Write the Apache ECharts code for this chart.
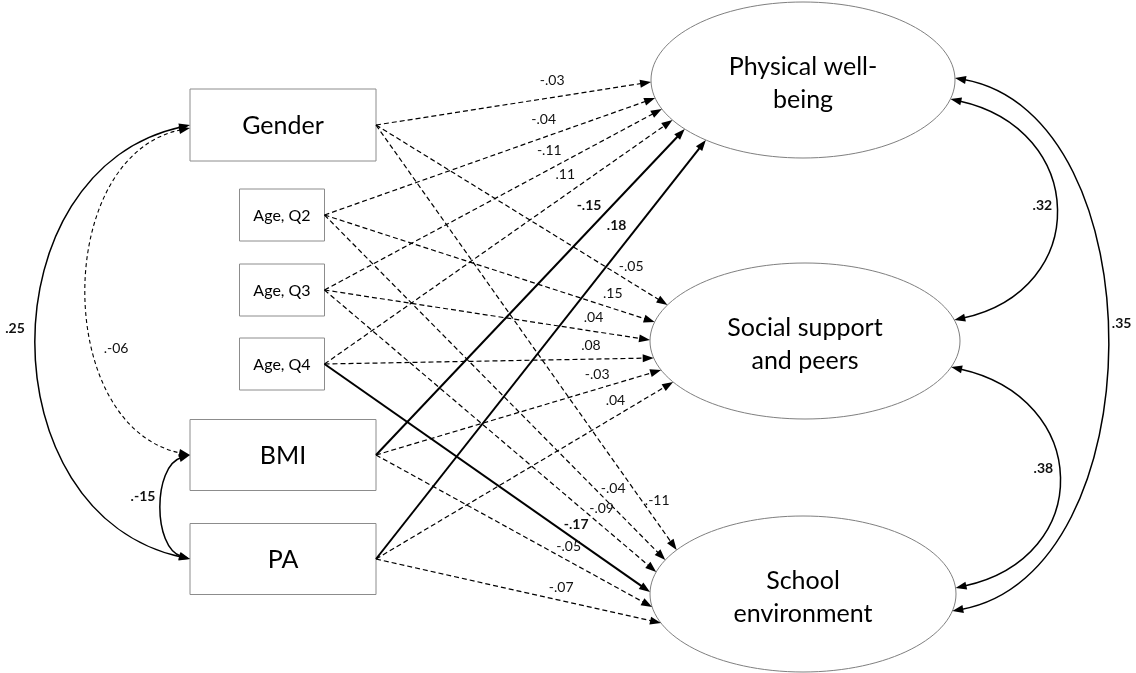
<!DOCTYPE html>
<html lang="en" style="height: 100%">
<head>
  <meta charset="utf-8">
</head>
<body style="height: 100%; margin: 0; background: #fff">
  <div id="container" style="width: 1136px; height: 673px"></div>

  <script type="text/javascript" src="https://cdn.jsdelivr.net/npm/echarts@6.0.0/dist/echarts.min.js"></script>
  <script type="text/javascript">
    // observed predictors (boxes) and outcomes (ellipses)
    var predictors = ['Gender', 'Age, Q2', 'Age, Q3', 'Age, Q4', 'BMI', 'PA'];
    var outcomes = ['Physical well-\nbeing', 'Social support\nand peers', 'School\nenvironment'];

    // path coefficients, one array per outcome, in predictor order
    var physicalPaths = ['-.03', '-.04', '-.11', '.11', '-.15', '.18'];
    var socialPaths = ['-.05', '.15', '.04', '.08', '-.03', '.04'];
    var schoolPaths = ['.-11', '-.04', '-.09', '-.17', '-.05', '-.07'];
    // 1 = significant path (solid line, bold label)
    var physicalSig = [0, 0, 0, 0, 1, 1];
    var socialSig = [0, 0, 0, 0, 0, 0];
    var schoolSig = [0, 0, 0, 1, 0, 0];

    // covariances (double headed arrows)
    var covFrom = ['Gender', 'Gender', 'BMI', outcomes[0], outcomes[1], outcomes[0]];
    var covTo = ['PA', 'BMI', 'PA', outcomes[1], outcomes[2], outcomes[2]];
    var covValues = ['.25', '.-06', '.-15', '.32', '.38', '.35'];
    var covSig = [1, 0, 1, 1, 1, 1];

    // ---- layout, in axis units (1 unit = 1 px) ----
    var boxes = [[283, 125, 186, 72], [282, 215, 85, 52], [282, 290, 85, 52],
                 [282, 364, 85, 52], [283, 455, 186, 71], [283, 559, 186, 71]];
    var ellipses = [[803, 80, 152, 78], [805, 341, 155, 78], [803, 594, 153, 78]];
    // vertical offset of every incoming arrow tip on the ellipse (predictor order)
    var inPorts = [[2, 18, 29, 40, 49, 60], [-36, -19, -1, 17, 29, 41], [-44, -34, -22, -2, 13, 29]];
    // position of the coefficient along its path (0 = box, 1 = ellipse)
    var labelAt = [[0.65, 0.68, 0.69, 0.72, 0.73, 0.77],
                   [0.85, 0.86, 0.82, 0.81, 0.79, 0.83],
                   [0.90, 0.82, 0.81, 0.75, 0.675, 0.64]];
    var labelGap = [17, 14, 13];
    var covPorts = [[0, 0], [3, 0], [0, 0], [19, -21], [26, -6], [-2, 17]];
    var covBulge = [153, 103, 28, 103, 105, 153];
    var covTilt = [0.22, 0.2, 0.3, 0.22, 0.22, 0.18];
    var covLabelOff = [[-22, -14], [29, 57], [-19, -11], [-13, -4], [-15, -9], [15, -21]];

    var FONT = 'Lato, "Open Sans", sans-serif';
    var ARROW = 11;

    var pathValues = [physicalPaths, socialPaths, schoolPaths];
    var pathSig = [physicalSig, socialSig, schoolSig];

    function ellipseX(e, dy, side) {
      var k = dy / e[3];
      return e[0] + side * e[2] * Math.sqrt(Math.max(0, 1 - k * k));
    }
    function toward(p, q, d) {
      var dx = q[0] - p[0], dy = q[1] - p[1], l = Math.sqrt(dx * dx + dy * dy);
      return [p[0] + dx / l * d, p[1] + dy / l * d];
    }
    function port(name, dy) {
      var i = predictors.indexOf(name);
      if (i >= 0) return [boxes[i][0] - boxes[i][2] / 2, boxes[i][1] + dy];
      var e = ellipses[outcomes.indexOf(name)];
      return [ellipseX(e, dy, 1), e[1] + dy];
    }

    var pathLines = [], labels = [], covGeom = [];
    outcomes.forEach(function (o, j) {
      var e = ellipses[j];
      predictors.forEach(function (p, i) {
        var b = boxes[i];
        var src = [b[0] + b[2] / 2, b[1]];
        var dy = inPorts[j][i];
        var tip = [ellipseX(e, dy, -1), e[1] + dy];
        var sig = pathSig[j][i];
        pathLines.push({
          coords: [src, toward(tip, src, ARROW / 2)],
          lineStyle: { type: sig ? 'solid' : [5, 3], width: sig ? 2 : 1.2 }
        });
        var t = labelAt[j][i];
        var len = Math.sqrt(Math.pow(tip[0] - src[0], 2) + Math.pow(tip[1] - src[1], 2));
        var nx = (tip[1] - src[1]) / len, ny = -(tip[0] - src[0]) / len;
        labels.push({
          pos: [src[0] + (tip[0] - src[0]) * t + nx * labelGap[j],
                src[1] + (tip[1] - src[1]) * t + ny * labelGap[j]],
          text: pathValues[j][i], bold: sig
        });
      });
    });

    // covariance arcs as cubic curves leaving the node sideways
    covValues.forEach(function (v, k) {
      var a = port(covFrom[k], covPorts[k][0]);
      var b = port(covTo[k], covPorts[k][1]);
      var side = predictors.indexOf(covFrom[k]) >= 0 ? -1 : 1;
      var h = covBulge[k] / 0.75;
      var tilt = h * covTilt[k];
      var c1 = [a[0] + side * h, a[1] + tilt];
      var c2 = [b[0] + side * h, b[1] - tilt];
      var apex = [0.125 * a[0] + 0.375 * c1[0] + 0.375 * c2[0] + 0.125 * b[0],
                  0.125 * a[1] + 0.375 * c1[1] + 0.375 * c2[1] + 0.125 * b[1]];
      covGeom.push({ a: a, b: b, c1: c1, c2: c2, sig: covSig[k] });
      labels.push({ pos: [apex[0] + covLabelOff[k][0], apex[1] + covLabelOff[k][1]], text: v, bold: covSig[k] });
    });

    function arrowHead(tip, from, color) {
      var base = toward(tip, from, ARROW);
      var dx = tip[0] - base[0], dy = tip[1] - base[1];
      var l = Math.sqrt(dx * dx + dy * dy);
      var px = -dy / l * 4, py = dx / l * 4;
      return { type: 'polygon', shape: { points: [tip, [base[0] + px, base[1] + py], [base[0] - px, base[1] - py]] },
               style: { fill: color } };
    }

    var nodeData = boxes.map(function (b) { return [b[0], b[1]]; })
      .concat(ellipses.map(function (e) { return [e[0], e[1]]; }));

    var dom = document.getElementById('container');
    var myChart = echarts.init(dom, null, { renderer: 'canvas' });

    var option = {
      animation: false,
      backgroundColor: '#fff',
      grid: { left: 0, right: 0, top: 0, bottom: 0 },
      xAxis: { type: 'value', min: 0, max: 1136, show: false },
      yAxis: { type: 'value', min: 0, max: 673, inverse: true, show: false },
      series: [
        {
          type: 'custom',
          z: 1,
          clip: false,
          data: nodeData,
          renderItem: function (params, api) {
            var i = params.dataIndex;
            var p = api.coord([api.value(0), api.value(1)]);
            if (i < predictors.length) {
              var b = boxes[i];
              var s = api.size([b[2], b[3]]);
              var w = Math.abs(s[0]), h = Math.abs(s[1]);
              var big = b[2] > 120;
              return {
                type: 'group',
                children: [
                  { type: 'rect', shape: { x: p[0] - w / 2, y: p[1] - h / 2, width: w, height: h },
                    style: { fill: '#fff', stroke: '#8c8c8c', lineWidth: 1 } },
                  { type: 'text', x: p[0], y: p[1] + 1,
                    style: { text: predictors[i], fill: '#000', fontFamily: FONT,
                             fontSize: big ? 25 : 16, align: 'center', verticalAlign: 'middle' } }
                ]
              };
            }
            var j = i - predictors.length;
            var e = ellipses[j];
            var r = api.size([e[2], e[3]]);
            return {
              type: 'group',
              children: [
                { type: 'ellipse', shape: { cx: p[0], cy: p[1], rx: Math.abs(r[0]), ry: Math.abs(r[1]) },
                  style: { fill: '#fff', stroke: '#7f7f7f', lineWidth: 1 } },
                { type: 'text', x: p[0], y: p[1] + 3,
                  style: { text: outcomes[j], fill: '#000', fontFamily: FONT, fontSize: 25,
                           lineHeight: 33, align: 'center', verticalAlign: 'middle' } }
              ]
            };
          }
        },
        {
          type: 'lines',
          coordinateSystem: 'cartesian2d',
          z: 2,
          symbol: ['none', 'triangle'],
          symbolSize: [[8, 11], [8, 11]],
          lineStyle: { color: '#000', opacity: 1, width: 1.2 },
          data: pathLines
        },
        {
          type: 'custom',
          z: 2,
          clip: false,
          data: covGeom.map(function (g) { return g.a; }),
          renderItem: function (params, api) {
            var g = covGeom[params.dataIndex];
            var a = api.coord(g.a), b = api.coord(g.b), c1 = api.coord(g.c1), c2 = api.coord(g.c2);
            var s = toward(a, c1, ARROW - 2), t = toward(b, c2, ARROW - 2);
            return {
              type: 'group',
              children: [
                { type: 'bezierCurve',
                  shape: { x1: s[0], y1: s[1], cpx1: c1[0], cpy1: c1[1], cpx2: c2[0], cpy2: c2[1], x2: t[0], y2: t[1] },
                  style: { fill: null, stroke: '#000', lineWidth: g.sig ? 1.5 : 1.1, lineDash: g.sig ? null : [4, 3] } },
                arrowHead(a, c1, '#000'),
                arrowHead(b, c2, '#000')
              ]
            };
          }
        },
        {
          type: 'custom',
          z: 3,
          clip: false,
          data: labels.map(function (l) { return l.pos; }),
          renderItem: function (params, api) {
            var l = labels[params.dataIndex];
            var p = api.coord([api.value(0), api.value(1)]);
            return {
              type: 'text', x: p[0], y: p[1],
              style: { text: l.text, fill: '#111', fontFamily: FONT, fontSize: 14,
                       fontWeight: l.bold ? 'bold' : 'normal', align: 'center', verticalAlign: 'middle' }
            };
          }
        }
      ]
    };

    myChart.setOption(option);
    window.addEventListener('resize', myChart.resize);
  </script>
</body>
</html>
